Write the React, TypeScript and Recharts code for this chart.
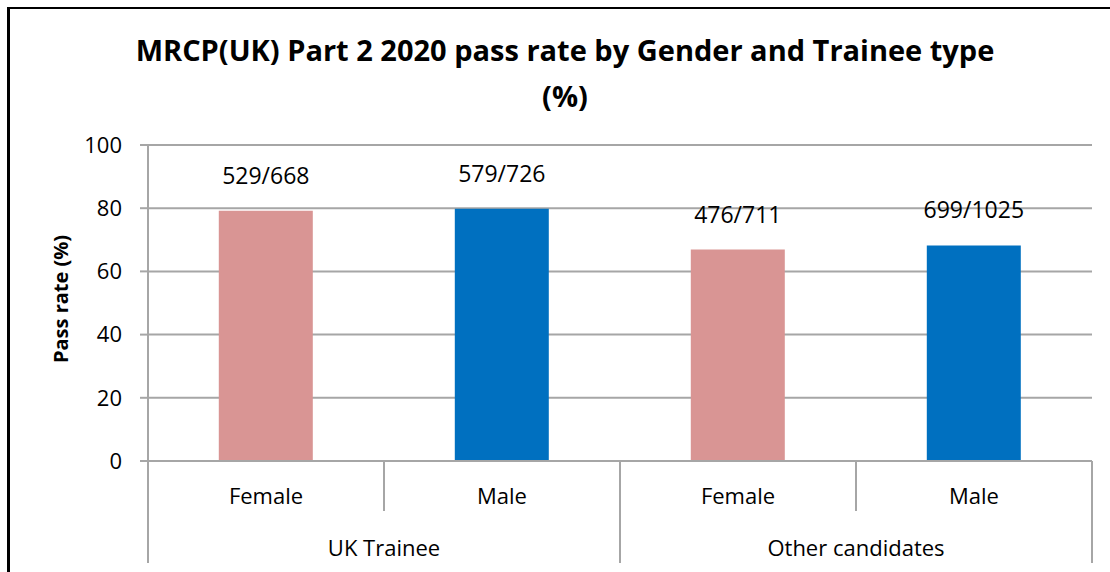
import React from 'react';
import { BarChart, Bar, XAxis, YAxis, CartesianGrid, Cell, LabelList } from 'recharts';

// ---- data ----
const categories = ['Female', 'Male', 'Female', 'Male'];
const groups = ['UK Trainee', 'UK Trainee', 'Other candidates', 'Other candidates'];
const passRates = [79.2, 79.8, 66.9, 68.2];
const passLabels = ['529/668', '579/726', '476/711', '699/1025'];
const yTicks = [0, 20, 40, 60, 80, 100];
const titleLines = ['MRCP(UK) Part 2 2020 pass rate by Gender and Trainee type', '(%)'];
const yAxisTitle = 'Pass rate (%)';

// ---- styles / layout ----
const PINK = '#D99594';
const BLUE = '#0070C0';
const barColors = [PINK, BLUE, PINK, BLUE];
const GRID = '#A6A6A6';
const FONT = '"Open Sans", sans-serif';

const W = 1110;
const H = 572;
const MARGIN = { top: 145, right: 18, bottom: 11, left: 88 };
const Y_AXIS_W = 60;
const X_AXIS_H = 100;
const PLOT_W = W - MARGIN.left - Y_AXIS_W - MARGIN.right;
const AXIS_Y = H - MARGIN.bottom - X_AXIS_H;
const BAND = PLOT_W / categories.length;

const data = categories.map((c, i) => ({
  category: c,
  group: groups[i],
  value: passRates[i],
  label: passLabels[i],
}));

const GroupedTick = (props: any) => {
  const { x, index } = props;
  const left = x - BAND / 2;
  const right = x + BAND / 2;
  const isGroupStart = index === 0 || groups[index] !== groups[index - 1];
  const isLast = index === categories.length - 1;
  let groupCount = 0;
  if (isGroupStart) {
    let j = index;
    while (j < groups.length && groups[j] === groups[index]) {
      groupCount++;
      j++;
    }
  }
  const minorLen = 50;
  const majorLen = 102;
  return (
    <g>
      <line
        x1={left}
        x2={left}
        y1={AXIS_Y}
        y2={AXIS_Y + (isGroupStart ? majorLen : minorLen)}
        stroke={GRID}
        strokeWidth={2}
      />
      {isLast && (
        <line x1={right} x2={right} y1={AXIS_Y} y2={AXIS_Y + majorLen} stroke={GRID} strokeWidth={2} />
      )}
      <text
        x={x}
        y={AXIS_Y + 34}
        textAnchor="middle"
        dominantBaseline="central"
        fontSize={22}
        fill="#000"
        fontFamily={FONT}
      >
        {categories[index]}
      </text>
      {isGroupStart && (
        <text
          x={left + (groupCount * BAND) / 2}
          y={AXIS_Y + 86}
          textAnchor="middle"
          dominantBaseline="central"
          fontSize={22}
          fill="#000"
          fontFamily={FONT}
        >
          {groups[index]}
        </text>
      )}
    </g>
  );
};

const BarValueLabel = (props: any) => {
  const { x, y, width, value } = props;
  return (
    <text
      x={x + width / 2}
      y={y - 36}
      textAnchor="middle"
      dominantBaseline="central"
      fontSize={23}
      fill="#000"
      fontFamily={FONT}
    >
      {value}
    </text>
  );
};

const YTitle = (props: any) => {
  const vb = props.viewBox || {};
  const cx = 60;
  const cy = vb.y + vb.height / 2 - 4;
  return (
    <text
      x={cx}
      y={cy}
      transform={`rotate(-90, ${cx}, ${cy})`}
      textAnchor="middle"
      dominantBaseline="central"
      fontSize={20}
      fontWeight="bold"
      fill="#000"
      fontFamily={FONT}
    >
      {yAxisTitle}
    </text>
  );
};

export default function App() {
  return (
    <div
      style={{
        position: 'fixed',
        left: 0,
        top: 0,
        width: W,
        height: H,
        background: '#fff',
        overflow: 'hidden',
        fontFamily: FONT,
      }}
    >
      <div
        style={{
          position: 'absolute',
          left: 7,
          top: 7,
          width: 1300,
          height: 800,
          borderLeft: '3px solid #000',
          borderTop: '2px solid #000',
        }}
      />
      <div
        style={{
          position: 'absolute',
          left: 0,
          top: 27,
          width: 1130,
          textAlign: 'center',
          fontWeight: 'bold',
          fontSize: 29,
          lineHeight: '46px',
          color: '#000',
          fontFamily: FONT,
        }}
      >
        {titleLines.map((t, i) => (
          <div key={i}>{t}</div>
        ))}
      </div>
      <div style={{ position: 'absolute', left: 0, top: 0 }}>
        <BarChart width={W} height={H} data={data} margin={MARGIN} barCategoryGap="30%">
          <CartesianGrid horizontal vertical={false} stroke={GRID} strokeWidth={2} />
          <XAxis
            dataKey="category"
            height={X_AXIS_H}
            axisLine={{ stroke: GRID, strokeWidth: 2 }}
            tickLine={false}
            interval={0}
            tick={<GroupedTick />}
          />
          <YAxis
            width={Y_AXIS_W}
            domain={[0, 100]}
            ticks={yTicks}
            interval={0}
            axisLine={{ stroke: GRID, strokeWidth: 2 }}
            tickLine={{ stroke: GRID, strokeWidth: 2 }}
            tickSize={8}
            tickMargin={18}
            tick={{ fontSize: 22, fill: '#000', fontFamily: FONT }}
            label={<YTitle />}
          />
          <Bar dataKey="value" isAnimationActive={false}>
            {data.map((d, i) => (
              <Cell key={i} fill={barColors[i]} />
            ))}
            <LabelList dataKey="label" content={<BarValueLabel />} />
          </Bar>
        </BarChart>
      </div>
    </div>
  );
}
